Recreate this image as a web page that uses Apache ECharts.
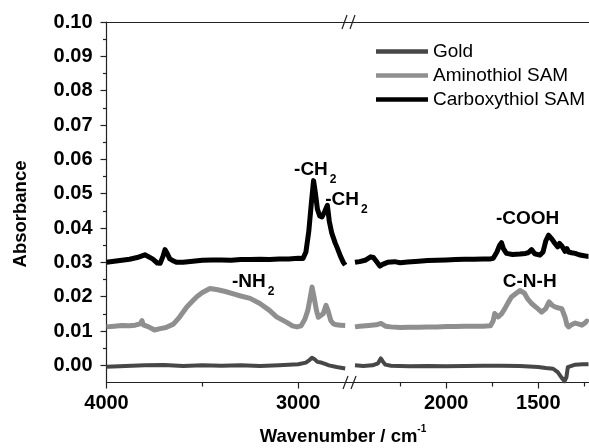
<!DOCTYPE html>
<html>
<head>
<meta charset="utf-8">
<script src="https://cdn.jsdelivr.net/npm/echarts@6/dist/echarts.min.js"></script>
<style>html,body{margin:0;padding:0;background:#fff}#c{width:589px;height:448px}</style>
</head>
<body>
<div id="c"></div>
<script>
// ---- data ----
const seriesNames = ['Gold', 'Aminothiol SAM', 'Carboxythiol SAM'];

// left segment (4000 - ~2750 cm-1)
const goldLeftWn = [4000,3900,3800,3700,3600,3500,3400,3300,3200,3100,3000,2960,2940,2928,2915,2900,2880,2860,2840,2800,2755];
const goldLeftAbs = [-0.0004,-0.0002,0.0,0.0001,-0.0002,0.0,-0.0001,0.0,-0.0002,0.0,0.0003,0.0008,0.0016,0.0022,0.0018,0.0010,0.0008,0.0004,0.0,-0.0005,-0.0009];

const aminoLeftWn = [4000,3960,3920,3880,3850,3825,3815,3808,3780,3750,3720,3690,3651,3620,3581,3550,3529,3500,3460,3420,3380,3338,3300,3251,3200,3150,3113,3060,3030,3007,2985,2965,2950,2935,2928,2918,2905,2895,2885,2870,2855,2845,2830,2816,2800,2780,2755];
const aminoLeftAbs = [0.0112,0.0114,0.0116,0.0115,0.0117,0.0121,0.0130,0.0118,0.0112,0.0103,0.0107,0.0110,0.0120,0.0140,0.0170,0.0188,0.0200,0.0212,0.0224,0.0220,0.0215,0.0208,0.0202,0.0195,0.0180,0.0160,0.0141,0.0125,0.0115,0.0112,0.0115,0.0135,0.0160,0.0205,0.0228,0.0200,0.0160,0.0140,0.0136,0.0150,0.0175,0.0160,0.0130,0.0121,0.0118,0.0117,0.0116];

const carboLeftWn = [4000,3960,3920,3880,3840,3800,3790,3760,3735,3720,3705,3695,3685,3670,3650,3633,3600,3550,3500,3450,3400,3350,3300,3250,3200,3150,3100,3050,3000,2975,2960,2945,2932,2920,2910,2900,2888,2876,2862,2848,2838,2825,2807,2795,2780,2765,2755];
const carboLeftAbs = [0.0300,0.0303,0.0306,0.0309,0.0314,0.0322,0.0326,0.0310,0.0298,0.0297,0.0318,0.0337,0.0328,0.0310,0.0304,0.0300,0.0300,0.0303,0.0306,0.0307,0.0307,0.0306,0.0308,0.0308,0.0309,0.0308,0.0310,0.0310,0.0312,0.0311,0.0330,0.0390,0.0470,0.0538,0.0500,0.0455,0.0435,0.0432,0.0448,0.0466,0.0420,0.0385,0.0356,0.0340,0.0318,0.0300,0.0292];

// right segment (~2500 - 1228 cm-1)
const goldRightWn = [2495,2450,2400,2370,2355,2345,2330,2300,2250,2200,2100,2000,1900,1800,1700,1600,1500,1460,1420,1395,1375,1358,1348,1340,1330,1300,1260,1228];
const goldRightAbs = [0.0000,-0.0002,0.0000,0.0006,0.0020,0.0012,0.0002,-0.0001,-0.0002,-0.0003,-0.0002,-0.0003,-0.0002,-0.0001,-0.0001,-0.0002,-0.0005,-0.0008,-0.0010,-0.0020,-0.0035,-0.0046,-0.0035,-0.0005,0.0000,0.0002,0.0003,0.0003];

const aminoRightWn = [2495,2470,2420,2380,2354,2330,2300,2250,2200,2150,2100,2050,2000,1950,1900,1850,1800,1760,1745,1737,1718,1700,1682,1665,1646,1620,1600,1591,1575,1560,1537,1510,1482,1460,1442,1425,1410,1390,1373,1355,1345,1336,1320,1300,1280,1264,1250,1237,1228];
const aminoRightAbs = [0.0112,0.0114,0.0116,0.0118,0.0122,0.0114,0.0112,0.0110,0.0111,0.0111,0.0112,0.0112,0.0113,0.0113,0.0114,0.0114,0.0114,0.0115,0.0130,0.0151,0.0141,0.0150,0.0165,0.0182,0.0199,0.0210,0.0218,0.0220,0.0210,0.0195,0.0180,0.0168,0.0155,0.0165,0.0185,0.0175,0.0170,0.0167,0.0165,0.0140,0.0118,0.0112,0.0118,0.0123,0.0120,0.0117,0.0122,0.0129,0.0125];

const carboRightWn = [2495,2470,2440,2410,2395,2375,2360,2345,2318,2280,2250,2209,2150,2100,2050,2000,1950,1900,1850,1800,1760,1745,1725,1710,1700,1690,1673,1640,1600,1570,1555,1537,1520,1491,1475,1460,1445,1430,1410,1395,1385,1373,1355,1345,1336,1320,1300,1280,1260,1240,1228];
const carboRightAbs = [0.0300,0.0302,0.0306,0.0316,0.0314,0.0300,0.0289,0.0294,0.0300,0.0302,0.0299,0.0301,0.0303,0.0305,0.0306,0.0307,0.0308,0.0309,0.0309,0.0310,0.0310,0.0312,0.0330,0.0350,0.0357,0.0340,0.0326,0.0323,0.0324,0.0326,0.0328,0.0337,0.0325,0.0321,0.0330,0.0362,0.0379,0.0370,0.0355,0.0345,0.0355,0.0348,0.0332,0.0340,0.0330,0.0328,0.0326,0.0322,0.0320,0.0318,0.0318];

// axis ticks
const yTickValues = [0,0.01,0.02,0.03,0.04,0.05,0.06,0.07,0.08,0.09,0.10];
const yMinorValues = [0.005,0.015,0.025,0.035,0.045,0.055,0.065,0.075,0.085,0.095];
const xLeftTicks = [4000, 3000];
const xLeftMinor = [3500];
const xRightTicks = [2000, 1500];
const xRightMinor = [2250, 1750, 1250];

// peak annotations: [segment, wavenumber, absorbance, main text, subscript]
const annotations = [
  [0, 2911, 0.0569, '-CH', '2'],
  [0, 2749, 0.0481, '-CH', '2'],
  [0, 3235, 0.0242, '-NH', '2'],
  [1, 1558, 0.0426, '-COOH', ''],
  [1, 1547, 0.0242, 'C-N-H', '']
];

// ---- chart ----
const zip = (a, b) => a.map((v, i) => [v, b[i]]);
const colors = ['#474747', '#8f8f8f', '#000000'];
const FONT = 'Arial, "Liberation Sans", sans-serif';
const axisColor = '#222';

const chart = echarts.init(document.getElementById('c'), null, {renderer: 'canvas'});

const gridTop = 22, gridBottom = 448 - 382.5;
const grids = [
  {left: 106.5, top: gridTop, width: 243.5, bottom: gridBottom},
  {left: 350, top: gridTop, width: 238.5, bottom: gridBottom}
];
const xRanges = [[2730, 4000], [1228, 2522]];

function bottomAxis(g, ticks, labels, len) {
  return {
    type: 'value', gridIndex: g, position: 'bottom', inverse: true,
    min: xRanges[g][0], max: xRanges[g][1],
    axisLine: {show: true, onZero: false, lineStyle: {color: axisColor, width: 1.2}},
    axisTick: {show: true, length: len, customValues: ticks, lineStyle: {color: axisColor, width: 1.2}},
    axisLabel: labels ? {show: true, customValues: ticks, margin: 11, formatter: v => String(Math.round(v)),
      color: '#000', fontFamily: FONT, fontWeight: 'bold', fontSize: 20} : {show: false},
    splitLine: {show: false}
  };
}
function topAxis(g) {
  return {
    type: 'value', gridIndex: g, position: 'top', inverse: true,
    min: xRanges[g][0], max: xRanges[g][1],
    axisLine: {show: true, onZero: false, lineStyle: {color: axisColor, width: 1.2}},
    axisTick: {show: false}, axisLabel: {show: false}, splitLine: {show: false}
  };
}
const xAxes = [
  bottomAxis(0, xLeftTicks, true, 6),
  bottomAxis(1, xRightTicks, true, 6),
  Object.assign(bottomAxis(0, xLeftMinor, false, 4), {axisLine: {show: false, onZero: false}}),
  Object.assign(bottomAxis(1, xRightMinor, false, 4), {axisLine: {show: false, onZero: false}}),
  topAxis(0),
  topAxis(1)
];
const yAxes = [
  {
    type: 'value', gridIndex: 0, position: 'left', min: -0.005, max: 0.10,
    axisLine: {show: true, onZero: false, lineStyle: {color: axisColor, width: 1.2}},
    axisTick: {show: true, length: 6, customValues: yTickValues, lineStyle: {color: axisColor, width: 1.2}},
    axisLabel: {show: true, customValues: yTickValues, margin: 14, formatter: v => v.toFixed(2),
      color: '#000', fontFamily: FONT, fontWeight: 'bold', fontSize: 20},
    splitLine: {show: false}
  },
  {
    type: 'value', gridIndex: 1, min: -0.005, max: 0.10, show: false, splitLine: {show: false}
  },
  {
    type: 'value', gridIndex: 0, position: 'left', min: -0.005, max: 0.10,
    axisLine: {show: false, onZero: false},
    axisTick: {show: true, length: 3.5, customValues: yMinorValues, lineStyle: {color: axisColor, width: 1.2}},
    axisLabel: {show: false}, splitLine: {show: false}
  }
];

const richSub = {
  b: {fontFamily: FONT, fontWeight: 'bold', fontSize: 19, color: '#000'},
  s: {fontFamily: FONT, fontWeight: 'bold', fontSize: 12, color: '#000', padding: [19, 0, 0, 2]}
};

const segData = [
  [zip(goldLeftWn, goldLeftAbs), zip(aminoLeftWn, aminoLeftAbs), zip(carboLeftWn, carboLeftAbs)],
  [zip(goldRightWn, goldRightAbs), zip(aminoRightWn, aminoRightAbs), zip(carboRightWn, carboRightAbs)]
];
const widths = [4, 5, 5];
const series = [];
for (let g = 0; g < 2; g++) {
  for (let s = 0; s < 3; s++) {
    series.push({
      name: seriesNames[s], type: 'line', xAxisIndex: g, yAxisIndex: g,
      data: segData[g][s], showSymbol: false, symbol: 'none',
      lineStyle: {color: colors[s], width: widths[s], join: 'round'},
      itemStyle: {color: colors[s]},
      z: 2 + s, animation: false
    });
  }
}
// annotation series per segment (labels placed by data coordinates)
for (let g = 0; g < 2; g++) {
  const ann = annotations.filter(a => a[0] === g);
  series.push({
    type: 'scatter', xAxisIndex: g, yAxisIndex: g, silent: true, animation: false,
    symbolSize: 0, z: 10, itemStyle: {opacity: 1, color: '#000'},
    data: ann.map(a => ({value: [a[1], a[2]], name: a[3], sub: a[4]})),
    label: {
      show: true, position: 'inside', color: '#000', opacity: 1,
      formatter: p => '{b|' + p.data.name + '}' + (p.data.sub ? '{s|' + p.data.sub + '}' : ''),
      rich: richSub
    },
    clip: false
  });
}

chart.setOption({
  animation: false,
  backgroundColor: '#fff',
  grid: grids,
  xAxis: xAxes,
  yAxis: yAxes,
  legend: {
    data: seriesNames, orient: 'vertical', left: 371, top: 37,
    icon: 'rect', itemWidth: 52, itemHeight: 4.5, itemGap: 5,
    textStyle: {fontFamily: FONT, fontSize: 19, color: '#000', padding: [0,0,0,0]}
  },
  series: series,
  graphic: [
    {type: 'text', x: 343, y: 437, style: {
      text: '{t|Wavenumber / cm}{p|-1}', align: 'center', verticalAlign: 'middle',
      rich: {t: {fontFamily: FONT, fontWeight: 'bold', fontSize: 18.5, fill: '#000'},
             p: {fontFamily: FONT, fontWeight: 'bold', fontSize: 10, fill: '#000', padding: [0, 0, 16, 0]}}
    }},
    {type: 'text', x: 21, y: 214, rotation: Math.PI / 2, style: {
      text: 'Absorbance', align: 'center', verticalAlign: 'middle',
      fontFamily: FONT, fontWeight: 'bold', fontSize: 18.5, fill: '#000'
    }},
    {type: 'line', shape: {x1: 342, y1: 29, x2: 347, y2: 15}, style: {stroke: '#222', lineWidth: 1.2}},
    {type: 'line', shape: {x1: 350, y1: 29, x2: 355, y2: 15}, style: {stroke: '#222', lineWidth: 1.2}},
    {type: 'line', shape: {x1: 343, y1: 389, x2: 348, y2: 376}, style: {stroke: '#222', lineWidth: 1.2}},
    {type: 'line', shape: {x1: 351, y1: 389, x2: 356, y2: 376}, style: {stroke: '#222', lineWidth: 1.2}}
  ]
});
</script>
</body>
</html>
